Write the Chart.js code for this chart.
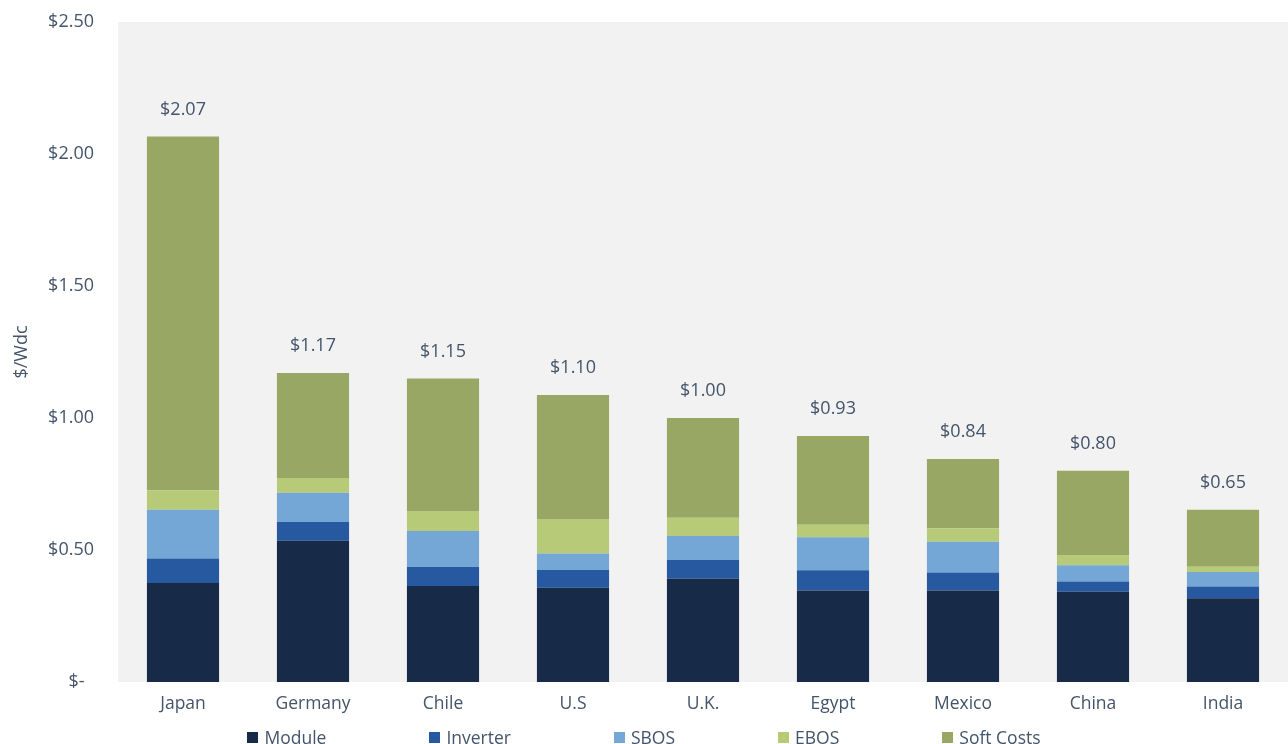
<!DOCTYPE html>
<html>
<head>
<meta charset="utf-8">
<script src="https://cdn.jsdelivr.net/npm/chart.js@4.4.1/dist/chart.umd.min.js"></script>
<style>
  html, body { margin: 0; padding: 0; background: #fff; }
  #wrap { position: relative; width: 1288px; height: 744px; overflow: hidden; }
  #legend { position: absolute; left: 0; top: 726px; width: 1288px; display: flex; justify-content: center; gap: 103px;
            font-family: "Open Sans", sans-serif; font-size: 17.5px; color: #44546A; line-height: 22px; }
  #legend .item { display: flex; align-items: center; white-space: nowrap; }
  #legend .sw { width: 11px; height: 11px; margin-right: 6px; display: inline-block; }
</style>
</head>
<body>
<div id="wrap">
  <canvas id="c" width="1288" height="744"></canvas>
  <div id="legend"></div>
</div>
<script>
const categories = ['Japan', 'Germany', 'Chile', 'U.S', 'U.K.', 'Egypt', 'Mexico', 'China', 'India'];
const moduleCost   = [0.375, 0.535, 0.364, 0.357, 0.391, 0.347, 0.347, 0.342, 0.317];
const inverterCost = [0.093, 0.071, 0.072, 0.067, 0.071, 0.076, 0.068, 0.039, 0.045];
const sbosCost     = [0.184, 0.111, 0.136, 0.063, 0.091, 0.125, 0.116, 0.061, 0.055];
const ebosCost     = [0.074, 0.056, 0.076, 0.130, 0.069, 0.048, 0.051, 0.039, 0.020];
const softCost     = [1.340, 0.397, 0.502, 0.470, 0.378, 0.336, 0.263, 0.319, 0.215];
const totalLabels  = ['$2.07', '$1.17', '$1.15', '$1.10', '$1.00', '$0.93', '$0.84', '$0.80', '$0.65'];
const seriesNames  = ['Module', 'Inverter', 'SBOS', 'EBOS', 'Soft Costs'];
const seriesColors = ['#172B49', '#2759A1', '#74A7D6', '#B7CA77', '#98A763'];
const yTicks = [0, 0.5, 1.0, 1.5, 2.0, 2.5];

const FONT = '"Open Sans", sans-serif';
const TEXT = '#44546A';

const seriesData = [moduleCost, inverterCost, sbosCost, ebosCost, softCost];
const datasets = seriesNames.map((n, i) => ({
  label: n,
  data: seriesData[i],
  backgroundColor: seriesColors[i],
  borderWidth: 0,
  categoryPercentage: 1.0,
  barPercentage: 0.555
}));

const plotBg = {
  id: 'plotBg',
  beforeDraw(chart) {
    const { ctx, chartArea: a } = chart;
    ctx.save();
    ctx.fillStyle = '#F2F2F2';
    ctx.fillRect(a.left, a.top, a.right - a.left, a.bottom - a.top);
    ctx.restore();
  }
};

const totalsPlugin = {
  id: 'totals',
  afterDatasetsDraw(chart) {
    const { ctx } = chart;
    const meta = chart.getDatasetMeta(chart.data.datasets.length - 1);
    ctx.save();
    ctx.font = '18px ' + FONT;
    ctx.fillStyle = TEXT;
    ctx.textAlign = 'center';
    ctx.textBaseline = 'middle';
    meta.data.forEach((bar, i) => {
      ctx.fillText(totalLabels[i], bar.x, bar.y - 27);
    });
    ctx.restore();
  }
};

new Chart(document.getElementById('c'), {
  type: 'bar',
  data: { labels: categories, datasets },
  plugins: [plotBg, totalsPlugin],
  options: {
    responsive: false,
    animation: false,
    layout: { padding: { top: 22, right: 0, bottom: 0, left: 0 } },
    plugins: { legend: { display: false }, tooltip: { enabled: false } },
    scales: {
      x: {
        stacked: true,
        grid: { display: false, drawTicks: false },
        border: { display: false },
        ticks: { color: TEXT, font: { family: FONT, size: 17.5 }, padding: 12, maxRotation: 0 },
        afterFit(s) { s.height = 62; s.paddingLeft = 0; s.paddingRight = 0; }
      },
      y: {
        stacked: true,
        min: 0, max: 2.5,
        afterBuildTicks(s) { s.ticks = yTicks.map(v => ({ value: v })); },
        grid: { display: false, drawTicks: false },
        border: { display: false },
        ticks: {
          color: TEXT, font: { family: FONT, size: 18 }, padding: 24,
          callback: v => v === 0 ? '$-  ' : '$' + Number(v).toFixed(2)
        },
        title: { display: true, text: '$/Wdc', color: TEXT, font: { family: FONT, size: 18 }, padding: { top: 11, bottom: 0 } },
        afterFit(s) { s.width = 118; s.paddingTop = 0; s.paddingBottom = 0; }
      }
    }
  }
});

const lg = document.getElementById('legend');
seriesNames.forEach((n, i) => {
  const it = document.createElement('div');
  it.className = 'item';
  const sw = document.createElement('span');
  sw.className = 'sw';
  sw.style.background = seriesColors[i];
  const t = document.createElement('span');
  t.textContent = n;
  it.appendChild(sw); it.appendChild(t);
  lg.appendChild(it);
});
</script>
</body>
</html>
